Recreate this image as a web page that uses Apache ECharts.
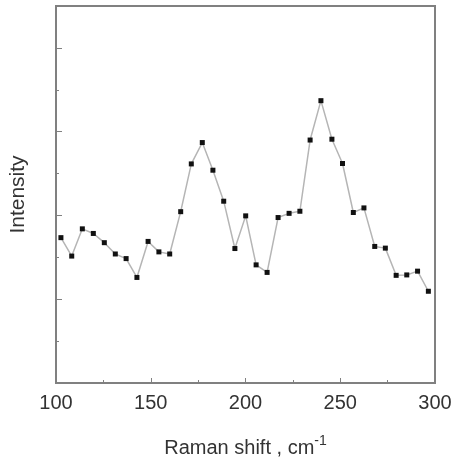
<!DOCTYPE html>
<html>
<head>
<meta charset="utf-8">
<script src="https://cdn.jsdelivr.net/npm/echarts@6/dist/echarts.min.js"></script>
<style>
  html, body { margin: 0; padding: 0; background: #fff; }
  #chart { width: 454px; height: 463px; }
</style>
</head>
<body>
<div id="chart"></div>
<script>
// Raman shift (cm-1)
const shift = [102.6, 108.3, 113.9, 119.7, 125.5, 131.3, 137.0, 142.7, 148.6, 154.3,
  160.0, 165.8, 171.4, 177.2, 182.8, 188.5, 194.4, 200.1, 205.6, 211.4,
  217.2, 223.0, 228.7, 234.1, 239.8, 245.6, 251.2, 256.9, 262.5, 268.2,
  273.8, 279.5, 285.1, 290.8, 296.5]
// intensity, arbitrary units (axis 0..9)
const intensity = [3.47, 3.03, 3.68, 3.57, 3.35, 3.08, 2.97, 2.52, 3.38, 3.13,
  3.08, 4.09, 5.23, 5.74, 5.08, 4.34, 3.21, 3.99, 2.82, 2.64,
  3.95, 4.05, 4.10, 5.80, 6.74, 5.82, 5.24, 4.07, 4.18, 3.26,
  3.22, 2.57, 2.58, 2.67, 2.19]
const xTicks = [100, 150, 200, 250, 300]

const myChart = echarts.init(document.getElementById('chart'), null, { renderer: 'canvas' })

const frameColor = '#808080'
const font = 'Liberation Sans, Arial, sans-serif'

const option = {
  animation: false,
  grid: {
    left: 56, right: 19, top: 6, bottom: 80,
    outerBoundsMode: 'none',
    show: true,
    borderColor: frameColor,
    borderWidth: 2
  },
  xAxis: {
    type: 'value',
    min: xTicks[0],
    max: xTicks[xTicks.length - 1],
    interval: 50,
    axisLine: { show: true, lineStyle: { color: frameColor, width: 2 } },
    axisTick: { show: true, inside: true, length: 5, lineStyle: { color: frameColor, width: 1 } },
    minorTick: { show: true, splitNumber: 2, length: 3, lineStyle: { color: frameColor } },
    splitLine: { show: false },
    axisLabel: { color: '#333', fontSize: 20, fontFamily: font, margin: 10 },
    name: '{a|Raman shift , cm}{s|-1}',
    nameLocation: 'middle',
    nameGap: 51,
    nameTextStyle: {
      rich: {
        a: { fontSize: 20, fontFamily: font, color: '#333', verticalAlign: 'bottom', lineHeight: 24 },
        s: { fontSize: 14, fontFamily: font, color: '#333', verticalAlign: 'top', lineHeight: 24, padding: [0, 0, 12, 0] }
      }
    }
  },
  yAxis: [
    {
      type: 'value',
      min: 0, max: 9, interval: 1,
      axisLine: { show: true, lineStyle: { color: frameColor, width: 2 } },
      axisTick: { show: true, inside: true, length: 3, lineStyle: { color: frameColor } },
      axisLabel: { show: false },
      splitLine: { show: false },
      name: 'Intensity',
      nameLocation: 'middle',
      nameGap: 27,
      nameTextStyle: { fontSize: 21, fontFamily: font, color: '#333' }
    },
    {
      type: 'value',
      position: 'left',
      min: 0, max: 9, interval: 2,
      axisLine: { show: false },
      axisTick: { show: true, inside: true, length: 6, lineStyle: { color: frameColor } },
      axisLabel: { show: false },
      splitLine: { show: false }
    }
  ],
  series: [
    {
      type: 'line',
      yAxisIndex: 0,
      data: shift.map((x, i) => [x, intensity[i]]),
      symbol: 'rect',
      symbolSize: 5,
      itemStyle: { color: '#111' },
      lineStyle: { color: '#b5b5b5', width: 1.5 }
    }
  ]
}
option && myChart.setOption(option)
</script>
</body>
</html>
